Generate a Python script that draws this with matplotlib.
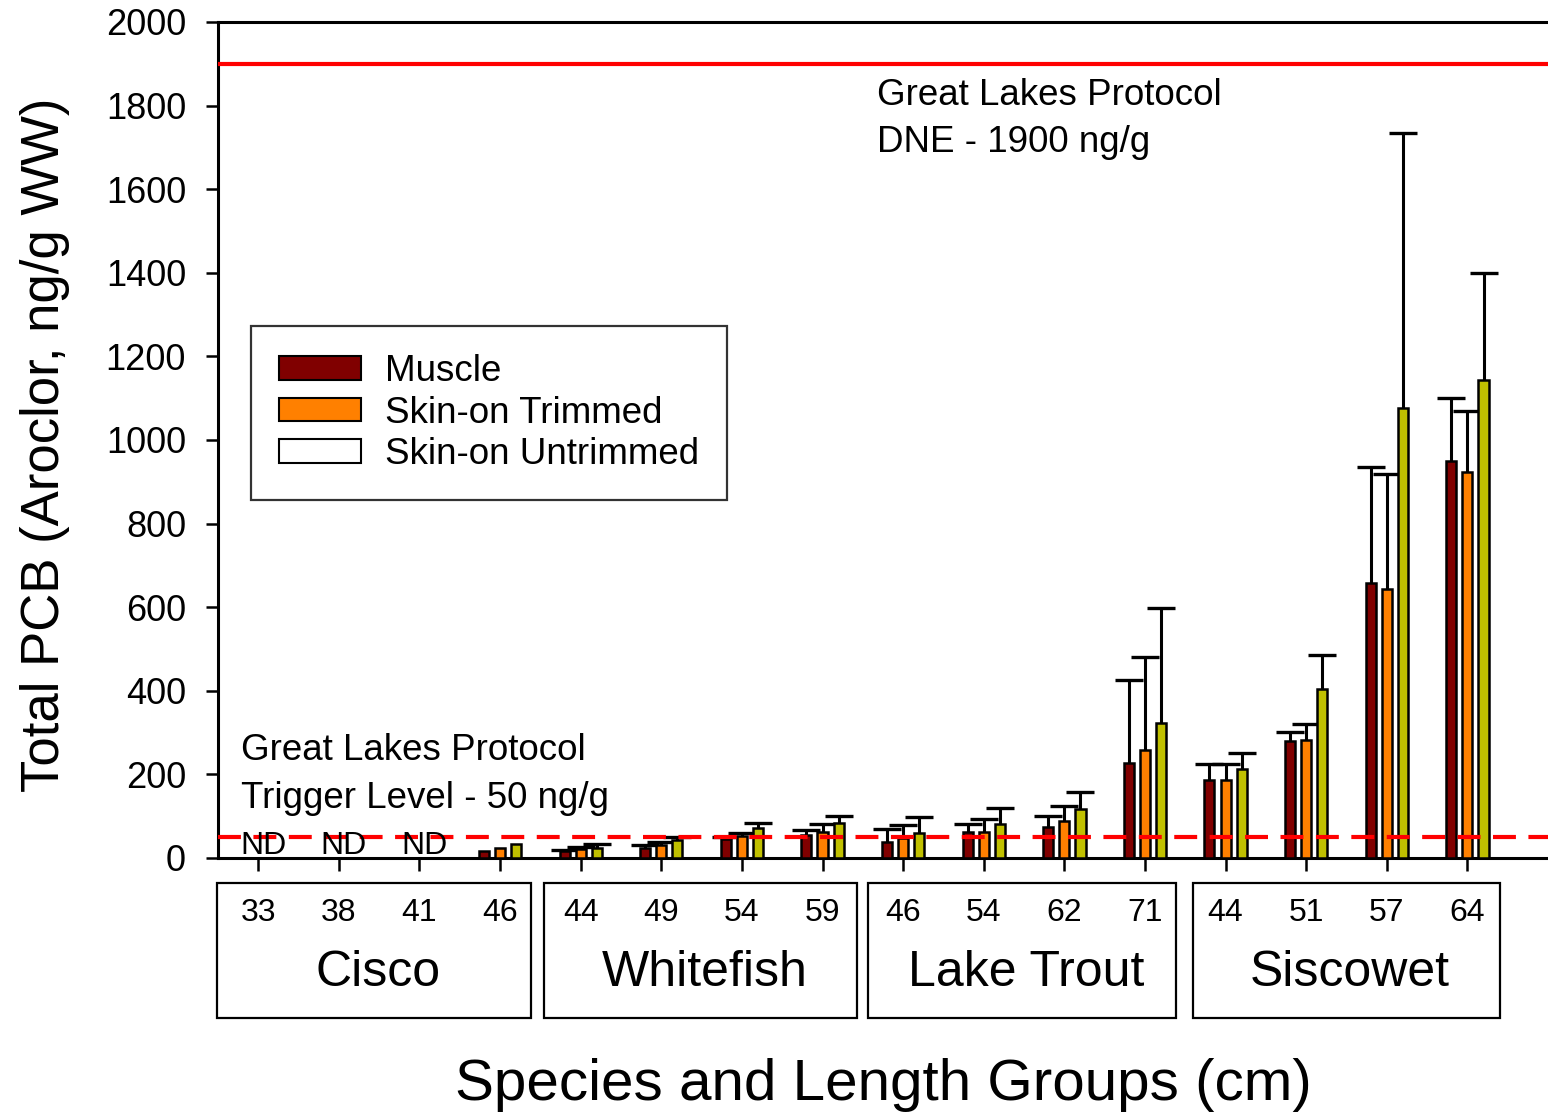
import numpy as np
import matplotlib
matplotlib.use("Agg")
import matplotlib.pyplot as plt
from matplotlib.patches import Patch, Rectangle
import matplotlib.transforms as mtransforms

plt.rcParams['font.family'] = ['Liberation Sans', 'DejaVu Sans']

# species groups and length classes (cm)
species = ['Cisco', 'Whitefish', 'Lake Trout', 'Siscowet']
lengths = ['33', '38', '41', '46',
           '44', '49', '54', '59',
           '46', '54', '62', '71',
           '44', '51', '57', '64']
nan = np.nan

# mean total PCB (ng/g WW); nan = not detected
muscle = [nan, nan, nan, 17.5,
          16, 25, 45, 55,
          38, 61, 75, 227,
          186, 280, 657, 950]
trimmed = [nan, nan, nan, 25,
           21, 30, 53, 63,
           47, 63, 89, 258,
           187, 283, 644, 924]
untrimmed = [nan, nan, nan, 33.5,
             25, 43, 72, 83,
             59, 81, 117, 323,
             213, 405, 1076, 1144]

# upper error bars
muscle_err = [nan, nan, nan, nan,
              2, 6, 5, 12,
              31, 21, 25, 200,
              39, 22, 278, 151]
trimmed_err = [nan, nan, nan, nan,
               4.5, 7.5, 6, 18,
               33, 30, 35, 224,
               38, 38, 274, 146]
untrimmed_err = [nan, nan, nan, nan,
                 8, 8, 11, 18,
                 40, 38, 41, 274,
                 39, 80, 658, 256]

dne_level = 1900
trigger_level = 50

fig = plt.figure(figsize=(15.48, 11.15), dpi=100)
ax = fig.add_axes([0.1408, 0.2305, 0.8592, 0.7498])

x = np.arange(1, len(lengths) + 1)
w = 0.125
series = [(muscle, muscle_err, '#800000', -0.2),
          (trimmed, trimmed_err, '#FF8000', 0.0),
          (untrimmed, untrimmed_err, '#C0C000', 0.2)]

for vals, errs, col, off in series:
    vals = np.array(vals, dtype=float)
    errs = np.array(errs, dtype=float)
    ax.bar(x + off, vals, width=w, color=col, edgecolor='black', linewidth=1.8, zorder=3)
    ok = ~np.isnan(errs)
    # upper error only: stem plus a cap on top
    ax.vlines(x[ok] + off, vals[ok], vals[ok] + errs[ok], color='black', lw=2.2, zorder=2)
    ax.plot(x[ok] + off, vals[ok] + errs[ok], ls='none', marker='_', ms=20, mew=2.4,
            color='black', zorder=2)

# reference levels
ax.axhline(dne_level, color='#FF0000', lw=3, zorder=4)
ax.axhline(trigger_level, color='#FF0000', lw=3, dashes=(5.5, 3), zorder=4)

ax.text(8.68, 1825, 'Great Lakes Protocol', fontsize=26.5, va='center', ha='left')
ax.text(8.68, 1712, 'DNE - 1900 ng/g', fontsize=26.5, va='center', ha='left')
ax.text(0.79, 256, 'Great Lakes Protocol', fontsize=26.5, va='center', ha='left')
ax.text(0.79, 143, 'Trigger Level - 50 ng/g', fontsize=26.5, va='center', ha='left')

for i in range(3):
    ax.text(x[i] + 0.06, 28, 'ND', fontsize=23, ha='center', va='center', zorder=5)

ax.set_xlim(0.5, 17.0)
ax.set_ylim(0, 2000)
ax.set_yticks(np.arange(0, 2001, 200))
ax.set_xticks(x)
ax.set_xticklabels([])
ax.tick_params(axis='both', direction='out', length=9, width=1.8, labelsize=26)
ax.tick_params(axis='y', pad=14)
for s in ['left', 'bottom', 'top']:
    ax.spines[s].set_linewidth(2.2)
ax.spines['right'].set_visible(False)

# boxed species groups below the axis
trans = mtransforms.blended_transform_factory(ax.transData, ax.transAxes)
box_edges = [(0.49, 4.38), (4.54, 8.43), (8.57, 12.38), (12.59, 16.40)]
for g, name in enumerate(species):
    x0, x1 = box_edges[g]
    ax.add_patch(Rectangle((x0, -0.191), x1 - x0, 0.161, transform=trans,
                           fill=False, edgecolor='black', lw=1.6, clip_on=False))
    for k in range(4):
        i = 4 * g + k
        ax.text(x[i], -0.066, lengths[i], transform=trans, fontsize=23,
                ha='center', va='center')
    ax.text((x0 + x1) / 2 + 0.05, -0.1376, name, transform=trans, fontsize=36,
            ha='center', va='center')

ax.text(0.5, -0.2715, 'Species and Length Groups (cm)', transform=ax.transAxes,
        fontsize=42, ha='center', va='center')
ax.set_ylabel('Total PCB (Aroclor, ng/g WW)', fontsize=38)
ax.yaxis.set_label_coords(-0.111, 0.494)

handles = [Patch(facecolor='#800000', edgecolor='black', lw=1.5, label='Muscle'),
           Patch(facecolor='#FF8000', edgecolor='black', lw=1.5, label='Skin-on Trimmed'),
           Patch(facecolor='white', edgecolor='black', lw=1.5, label='Skin-on Untrimmed')]
leg = ax.legend(handles=handles, loc='upper left', bbox_to_anchor=(0.0248, 0.636),
                borderaxespad=0, fontsize=26.5, frameon=True, fancybox=False,
                handlelength=2.25, handleheight=0.6, labelspacing=0.18,
                borderpad=0.75, handletextpad=0.65)
leg.get_frame().set_edgecolor('black')
leg.get_frame().set_linewidth(1.6)

fig.savefig('out.png', dpi=100)
